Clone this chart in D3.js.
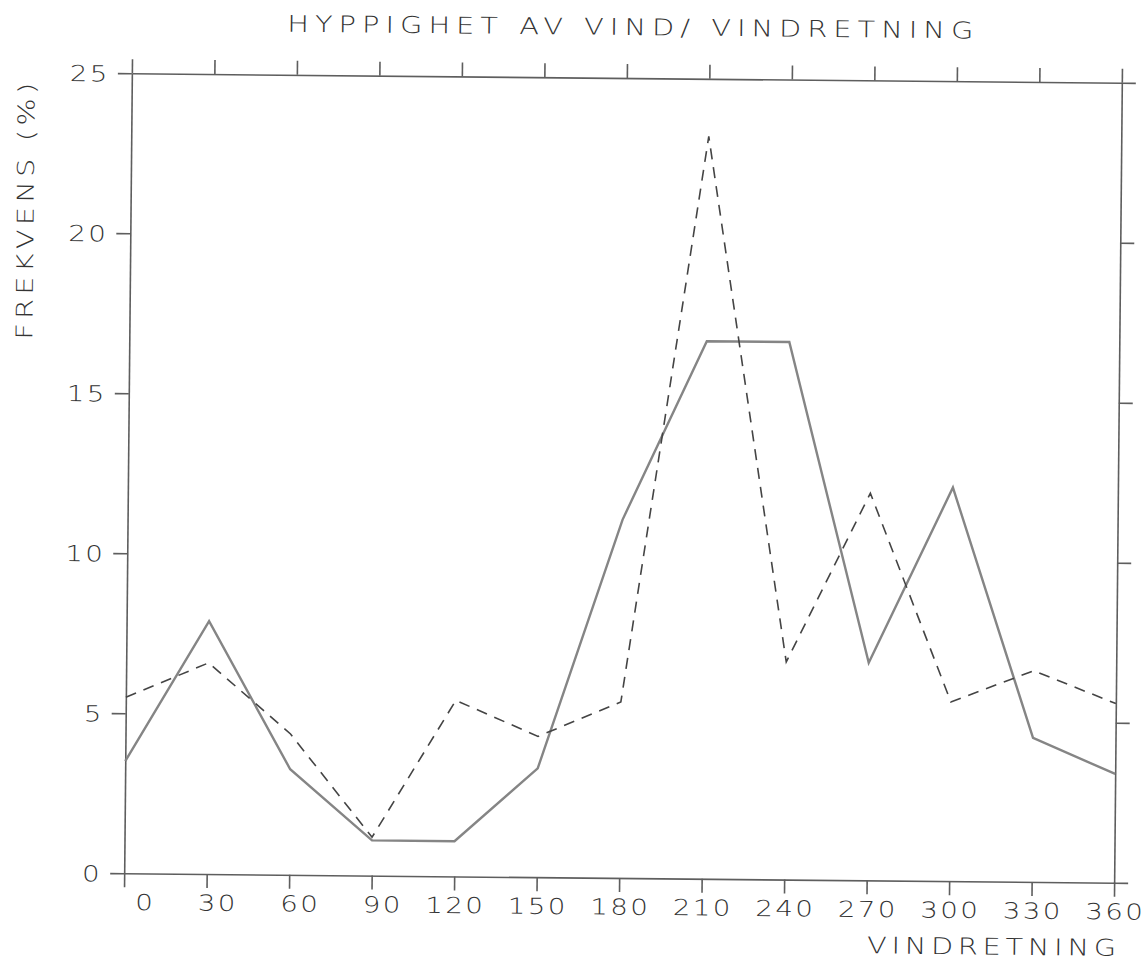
<!DOCTYPE html>
<html>
<head>
<meta charset="utf-8">
<script src="https://cdn.jsdelivr.net/npm/d3@7"></script>
<style>
  body { margin: 0; background: #fff; }
  svg { display: block; }
  text { font-family: "DejaVu Sans", sans-serif; font-weight: 300; fill: #333; }
</style>
</head>
<body>
<svg id="chart" width="1146" height="961"></svg>
<script>
// wind direction (degrees) and frequency (%)
const directions = [0, 30, 60, 90, 120, 150, 180, 210, 240, 270, 300, 330, 360];
const solidSeries = [3.5, 7.9, 3.3, 1.1, 1.1, 3.4, 11.2, 16.8, 16.8, 6.8, 12.3, 4.5, 3.4];
const dashedSeries = [5.5, 6.6, 4.4, 1.2, 5.5, 4.4, 5.5, 23.2, 6.8, 12.1, 5.6, 6.6, 5.6];
const freqTicks = [0, 5, 10, 15, 20, 25];

const titleText = "HYPPIGHET AV VIND/ VINDRETNING";
const xLabel = "VINDRETNING";
const yLabel = "FREKVENS (%)";

const svg = d3.select("#chart");

const plotLeft = 128, plotRight = 1118, plotTop = 78, plotBottom = 878;
const stretch = 1.25; // plotter lettering is wider than the font

const x = d3.scaleLinear().domain([0, 360]).range([plotLeft, plotRight]);
const y = d3.scaleLinear().domain([0, 25]).range([plotBottom, plotTop]);

// the scanned plot is slightly tilted
const root = svg.append("g")
    .attr("transform", `rotate(0.55, ${(plotLeft + plotRight) / 2}, ${(plotTop + plotBottom) / 2})`);

const axisColor = "#5e5e5e";
const tick = 14;

function styleAxis(g) {
    g.selectAll("path, line").attr("stroke", axisColor).attr("stroke-width", 1.6);
}

function styleLabels(g, dx, dy, dyEm) {
    g.selectAll("text")
        .attr("text-anchor", "end")
        .attr("transform", `scale(${stretch},1)`)
        .attr("x", dx / stretch)
        .attr("y", dy)
        .attr("dy", dyEm)
        .attr("font-size", 22)
        .attr("letter-spacing", 2)
        .attr("font-family", null)
        .attr("fill", null);
}

root.append("g")
    .attr("transform", `translate(0,${plotBottom})`)
    .call(d3.axisBottom(x).tickValues(directions).tickSize(tick).tickSizeOuter(0).tickFormat(d3.format("d")))
    .call(styleAxis)
    .call(g => styleLabels(g, 31, 21, "0.71em"));

root.append("g")
    .attr("transform", `translate(0,${plotTop})`)
    .call(d3.axisTop(x).tickValues(directions).tickSize(tick).tickSizeOuter(0).tickFormat(""))
    .call(styleAxis);

root.append("g")
    .attr("transform", `translate(${plotLeft},0)`)
    .call(d3.axisLeft(y).tickValues(freqTicks).tickSize(tick).tickSizeOuter(0).tickFormat(d3.format("d")))
    .call(styleAxis)
    .call(g => styleLabels(g, -22, 0, "0.36em"));

root.append("g")
    .attr("transform", `translate(${plotRight},0)`)
    .call(d3.axisRight(y).tickValues(freqTicks).tickSize(tick).tickSizeOuter(0).tickFormat(""))
    .call(styleAxis);

const line = d3.line()
    .x((d, i) => x(directions[i]))
    .y(d => y(d));

root.append("path")
    .datum(solidSeries)
    .attr("d", line)
    .attr("fill", "none")
    .attr("stroke", "#858585")
    .attr("stroke-width", 2.4)
    .attr("stroke-linejoin", "miter");

root.append("path")
    .datum(dashedSeries)
    .attr("d", line)
    .attr("fill", "none")
    .attr("stroke", "#444")
    .attr("stroke-width", 1.6)
    .attr("stroke-dasharray", "11,8");

// titles
root.append("text")
    .attr("transform", `translate(626,35) scale(${stretch},1)`)
    .attr("text-anchor", "middle")
    .attr("font-size", 23)
    .attr("textLength", 686 / stretch)
    .attr("lengthAdjust", "spacing")
    .text(titleText);

root.append("text")
    .attr("transform", `translate(996,951) scale(${stretch},1)`)
    .attr("text-anchor", "middle")
    .attr("font-size", 23)
    .attr("textLength", 249 / stretch)
    .attr("lengthAdjust", "spacing")
    .text(xLabel);

root.append("text")
    .attr("transform", `translate(31,217) rotate(-90) scale(${stretch},1)`)
    .attr("text-anchor", "middle")
    .attr("font-size", 23)
    .attr("textLength", 257 / stretch)
    .attr("lengthAdjust", "spacing")
    .text(yLabel);
</script>
</body>
</html>
